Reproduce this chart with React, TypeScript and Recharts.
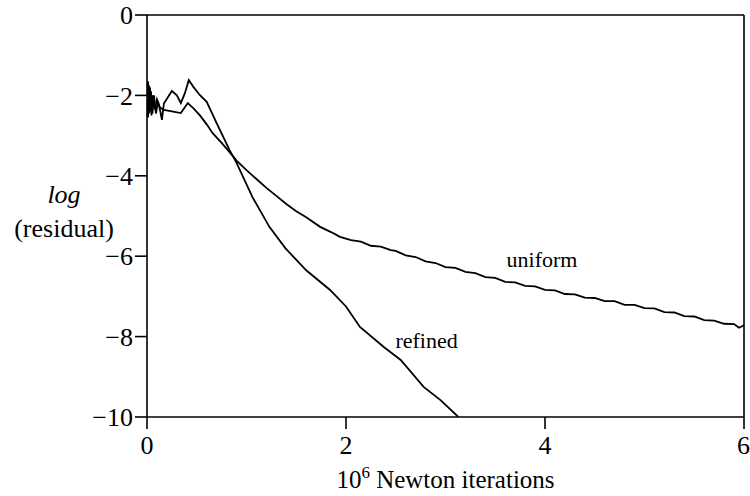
import React from 'react';
import { LineChart, Line, XAxis, YAxis, ReferenceLine, ReferenceDot, Label } from 'recharts';

const xTicks = [0, 2, 4, 6];
const yTicks = [0, -2, -4, -6, -8, -10];

const uniformX = [0, 0.01, 0.02, 0.03, 0.045, 0.06, 0.08, 0.1, 0.13, 0.17, 0.25, 0.34, 0.41, 0.47, 0.53, 0.6, 0.66, 0.75, 0.83, 0.9, 1.0, 1.1, 1.2, 1.3, 1.4, 1.5, 1.6, 1.74, 1.85, 1.94, 2.05, 2.15, 2.25, 2.35, 2.45, 2.5, 2.6, 2.7, 2.8, 2.9, 3.0, 3.1, 3.2, 3.3, 3.4, 3.5, 3.6, 3.7, 3.8, 3.9, 4.0, 4.1, 4.2, 4.3, 4.4, 4.5, 4.6, 4.7, 4.8, 4.9, 5.0, 5.1, 5.2, 5.3, 5.4, 5.5, 5.6, 5.7, 5.8, 5.9, 5.95, 6.0];
const uniformY = [-2.0, -1.65, -2.45, -1.8, -2.5, -2.0, -2.35, -2.1, -2.3, -2.36, -2.4, -2.44, -2.19, -2.33, -2.49, -2.72, -2.94, -3.18, -3.41, -3.62, -3.86, -4.08, -4.3, -4.5, -4.7, -4.88, -5.03, -5.27, -5.4, -5.52, -5.6, -5.64, -5.74, -5.76, -5.85, -5.87, -5.98, -6.02, -6.13, -6.17, -6.27, -6.29, -6.39, -6.42, -6.52, -6.54, -6.64, -6.65, -6.74, -6.75, -6.84, -6.85, -6.94, -6.95, -7.03, -7.04, -7.12, -7.12, -7.21, -7.21, -7.29, -7.3, -7.39, -7.4, -7.49, -7.5, -7.59, -7.6, -7.68, -7.69, -7.78, -7.72];

const refinedX = [0, 0.01, 0.02, 0.03, 0.04, 0.055, 0.07, 0.09, 0.11, 0.13, 0.15, 0.17, 0.25, 0.3, 0.34, 0.38, 0.42, 0.47, 0.53, 0.6, 0.7, 0.83, 0.9, 1.06, 1.23, 1.39, 1.6, 1.84, 2.0, 2.14, 2.38, 2.55, 2.78, 2.95, 3.13];
const refinedY = [-2.1, -2.55, -1.75, -2.4, -1.9, -2.45, -2.0, -2.45, -2.15, -2.35, -2.61, -2.2, -1.89, -2.0, -2.19, -1.95, -1.62, -1.8, -1.99, -2.16, -2.69, -3.36, -3.68, -4.53, -5.27, -5.8, -6.35, -6.84, -7.25, -7.76, -8.26, -8.58, -9.25, -9.58, -10.0];

const uniformData = uniformX.map((x, i) => ({ x, y: uniformY[i] }));
const refinedData = refinedX.map((x, i) => ({ x, y: refinedY[i] }));

const FONT = '"Liberation Serif", "Times New Roman", serif';

const fmtY = (v: number) => (v < 0 ? '\u2212' + Math.abs(v) : String(v));

const YLabel = (props: any) => {
  const vb = props.viewBox || {};
  const cx = (vb.x || 0) + 64;
  const top = vb.y || 0;
  return (
    <text textAnchor="middle" fontFamily={FONT} fontSize={26} fill="#000">
      <tspan x={cx} y={top + 188} fontStyle="italic">log</tspan>
      <tspan x={cx} y={top + 222}>(residual)</tspan>
    </text>
  );
};

const XLabel = (props: any) => {
  const vb = props.viewBox || {};
  const cx = (vb.x || 0) + (vb.width || 0) / 2;
  const y = (vb.y || 0) + 71;
  return (
    <text x={cx} y={y} textAnchor="middle" fontFamily={FONT} fontSize={25} fill="#000">
      10<tspan dy={-10} fontSize={17}>6</tspan><tspan dy={10}> Newton iterations</tspan>
    </text>
  );
};

export default function App() {
  return (
    <div style={{ position: 'absolute', left: 0, top: 0, background: '#fff' }}>
      <LineChart width={750} height={496} margin={{ top: 15, right: 6, bottom: 0, left: 0 }}>
        <XAxis
          type="number"
          dataKey="x"
          domain={[0, 6]}
          ticks={xTicks}
          allowDataOverflow
          height={79}
          stroke="#000"
          strokeWidth={1.6}
          tickSize={12}
          tickMargin={7}
          tick={{ fill: '#000', fontFamily: FONT, fontSize: 26 }}
        >
          <Label content={<XLabel />} />
        </XAxis>
        <YAxis
          type="number"
          dataKey="y"
          domain={[-10, 0]}
          ticks={yTicks}
          allowDataOverflow
          width={147}
          stroke="#000"
          strokeWidth={1.6}
          tickSize={12}
          tickMargin={2}
          tickFormatter={fmtY}
          tick={{ fill: '#000', fontFamily: FONT, fontSize: 26 }}
        >
          <Label content={<YLabel />} />
        </YAxis>
        <ReferenceLine y={0} stroke="#000" strokeWidth={1.6} />
        <ReferenceLine x={6} stroke="#000" strokeWidth={1.6} />
        <Line data={uniformData} dataKey="y" type="linear" stroke="#000" strokeWidth={1.8} dot={false} isAnimationActive={false} />
        <Line data={refinedData} dataKey="y" type="linear" stroke="#000" strokeWidth={1.8} dot={false} isAnimationActive={false} />
        <ReferenceDot x={3.97} y={-6.07} r={0} ifOverflow="visible"
          label={{ value: 'uniform', position: 'center', fill: '#000', fontFamily: FONT, fontSize: 22 }} />
        <ReferenceDot x={2.81} y={-8.08} r={0} ifOverflow="visible"
          label={{ value: 'refined', position: 'center', fill: '#000', fontFamily: FONT, fontSize: 22 }} />
      </LineChart>
    </div>
  );
}
